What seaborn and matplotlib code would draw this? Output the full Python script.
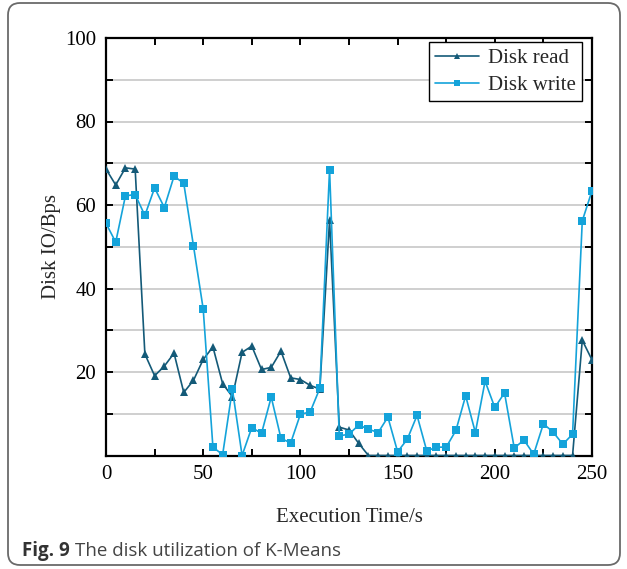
import numpy as np
import pandas as pd
import matplotlib
matplotlib.use("Agg")
import matplotlib.pyplot as plt
from matplotlib.patches import FancyBboxPatch
from matplotlib.ticker import MultipleLocator
import seaborn as sns

# Sampling instants (s)
time_s = list(range(0, 251, 5))

# Disk read throughput (Bps)
disk_read = [68.6, 64.8, 68.9, 68.6, 24.3, 19.1, 21.4, 24.5, 15.1, 18.0,
             23.0, 26.0, 17.2, 14.1, 24.7, 26.2, 20.6, 21.1, 25.0, 18.6,
             18.2, 16.8, 15.9, 56.4, 6.8, 6.1, 2.9,
             0, 0, 0, 0, 0, 0, 0, 0, 0, 0, 0, 0, 0, 0, 0, 0, 0, 0, 0, 0, 0, 0,
             27.6, 22.9]

# Disk write throughput (Bps)
disk_write = [55.6, 51.1, 62.2, 62.5, 57.5, 64.1, 59.4, 66.9, 65.2, 50.2,
              35.1, 2.0, 0.2, 15.9, 0.0, 6.7, 5.3, 14.0, 4.1, 3.0,
              9.9, 10.4, 16.1, 68.5, 4.7, 5.1, 7.3, 6.3, 5.5, 9.2,
              0.9, 3.9, 9.6, 1.1, 2.0, 2.0, 6.0, 14.3, 5.5, 17.8,
              11.5, 15.0, 1.8, 3.7, 0.3, 7.6, 5.6, 2.7, 5.1, 56.2,
              63.4]

series_names = ["Disk read", "Disk write"]

df = pd.concat([
    pd.DataFrame({"t": time_s, "v": disk_read, "series": series_names[0]}),
    pd.DataFrame({"t": time_s, "v": disk_write, "series": series_names[1]}),
], ignore_index=True)

sns.set_style("white")
plt.rcParams["font.family"] = ["Liberation Serif", "DejaVu Serif"]

fig = plt.figure(figsize=(6.27, 5.69), dpi=100)
ax = fig.add_axes([106 / 627, 1 - 455.5 / 569, (592 - 106) / 627, (455.5 - 38) / 569])

palette = {"Disk read": "#145a78", "Disk write": "#14a3da"}
markers = {"Disk read": "^", "Disk write": "s"}

sns.lineplot(data=df, x="t", y="v", hue="series", style="series",
             palette=palette, markers=markers, dashes=False,
             markersize=6, markeredgewidth=0, linewidth=1.2, ax=ax,
             zorder=3)

ax.set_xlim(0, 250)
ax.set_ylim(0, 100)
ax.xaxis.set_major_locator(MultipleLocator(50))
ax.xaxis.set_minor_locator(MultipleLocator(25))
ax.yaxis.set_major_locator(MultipleLocator(20))
ax.yaxis.set_minor_locator(MultipleLocator(10))
ax.set_yticks([20, 40, 60, 80, 100])

ax.yaxis.grid(True, which="both", color="#cccccc", linewidth=1.3, zorder=0)
ax.xaxis.grid(False)
ax.set_axisbelow(True)

for side in ax.spines.values():
    side.set_visible(True)
    side.set_color("black")
    side.set_linewidth(1.6)

ax.tick_params(axis="both", which="both", direction="in", top=True, right=True,
               bottom=True, left=True, length=5, width=1.4, colors="black",
               labelsize=15, pad=7)

ax.set_xlabel("Execution Time/s", fontsize=15, labelpad=17)
ax.set_ylabel("Disk IO/Bps", fontsize=15, labelpad=3)

handles, labels = ax.get_legend_handles_labels()
leg = ax.legend(handles, labels, loc="upper right", bbox_to_anchor=(0.98, 0.99),
                fontsize=15, frameon=True, fancybox=False, edgecolor="black",
                handlelength=2.1, handletextpad=0.45, borderpad=0.3,
                labelspacing=0.35, borderaxespad=0.0)
leg.get_frame().set_linewidth(1.0)
leg.get_frame().set_facecolor("white")
leg.get_frame().set_alpha(1.0)
for h in leg.legend_handles:
    h.set_markersize(4.5)

# Rounded outer frame of the figure panel
frame = FancyBboxPatch((0.08, 0.04), 6.12, 5.62,
                       boxstyle="round,pad=0,rounding_size=0.12",
                       transform=fig.dpi_scale_trans, facecolor="none",
                       edgecolor="#6a6a6a", linewidth=1.3, zorder=-1)
fig.patches.append(frame)

# Caption
cap_y = 1 - 551 / 569
t1 = fig.text(22 / 627, cap_y, "Fig. 9", fontsize=13.5, fontweight="bold",
              family=["Open Sans", "DejaVu Sans"], color="#333333", va="center")
fig.canvas.draw()
bb = t1.get_window_extent()
fig.text((bb.x1 + 5) / fig.bbox.width, cap_y, "The disk utilization of K-Means",
         fontsize=13.5, family=["Open Sans", "DejaVu Sans"], color="#444444",
         va="center")

fig.savefig("out.png", dpi=100)
